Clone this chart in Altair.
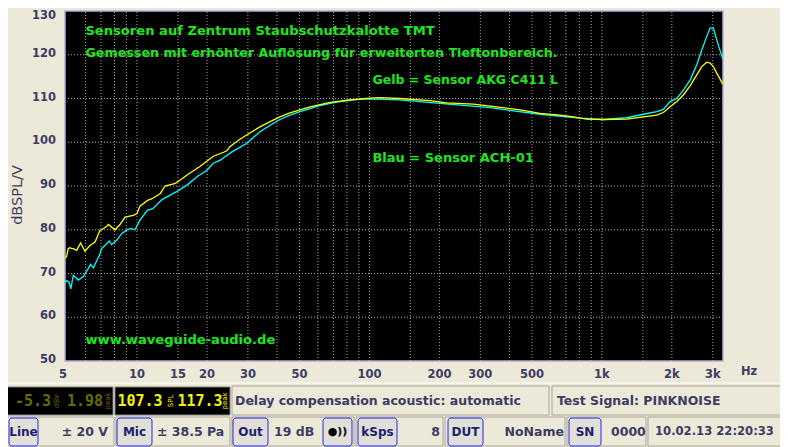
import altair as alt
import pandas as pd

# ---------------- data ----------------
yellow_freq = [4.9, 4.98, 5.06, 5.15, 5.24, 5.32, 5.5, 5.72, 5.97, 6.28, 6.6, 6.93, 7.05, 7.41, 7.53,
               8.04, 8.45, 8.88, 9.64, 10.0, 10.3, 11.1, 11.6, 12.6, 13.2, 14.6, 15.3, 16.6, 18.7,
               21.3, 24.3, 25.1, 27.7, 33.8, 37.4, 41.2, 45.5, 50.3, 55.5, 61.3, 67.7, 74.7, 82.5,
               91.1, 100.6, 111, 135, 182, 215, 280, 353, 445, 542, 661, 754, 861, 1015, 1280,
               1508, 1723, 1839, 1965, 2101, 2242, 2396, 2561, 2691, 2827, 2921, 3018, 3121, 3313]
yellow_db = [73.5, 73.9, 75.7, 75.9, 75.7, 75.7, 75.3, 77.0, 75.1, 76.4, 77.2, 79.9, 80.0, 80.8, 81.2,
             80.0, 81.2, 82.9, 83.3, 83.7, 85.4, 86.7, 87.1, 88.3, 90.0, 90.6, 91.3, 92.7, 94.5,
             96.8, 98.0, 99.0, 100.7, 103.5, 104.7, 105.8, 106.7, 107.4, 108.1, 108.6, 109.1, 109.4,
             109.7, 109.9, 110.1, 110.2, 110.0, 109.5, 109.0, 108.7, 108.1, 107.4, 106.6, 106.2,
             105.8, 105.3, 105.2, 105.3, 105.8, 106.2, 106.8, 108.1, 109.3, 110.8, 112.9, 115.4,
             117.3, 118.3, 118.1, 117.3, 115.8, 113.3]

cyan_freq = [4.9, 4.98, 5.1, 5.19, 5.32, 5.59, 5.88, 6.32, 6.49, 6.88, 7.05, 7.6, 7.78, 8.18, 8.59,
             9.03, 9.39, 9.8, 10.3, 11.1, 11.7, 12.8, 13.9, 14.8, 16.4, 18.3, 19.9, 21.3, 22.8, 25.6,
             29.6, 33.8, 37.4, 41.2, 45.5, 50.3, 55.5, 61.3, 67.7, 74.7, 82.5, 91.1, 100.6, 135, 201,
             330, 542, 806, 1015, 1280, 1508, 1723, 1839, 1965, 2101, 2242, 2396, 2561, 2691, 2827,
             2921, 3018, 3121, 3313]
cyan_db = [68.0, 68.4, 68.0, 66.5, 69.6, 68.5, 69.3, 72.1, 71.3, 74.1, 75.7, 77.4, 76.6, 77.6, 79.1,
           79.9, 80.3, 80.0, 82.2, 84.5, 84.8, 86.9, 87.9, 88.7, 90.2, 92.3, 93.5, 95.2, 95.9, 97.8,
           99.7, 102.4, 103.9, 105.2, 106.2, 107.0, 107.7, 108.4, 108.9, 109.3, 109.6, 109.8, 109.9,
           109.7, 108.9, 107.9, 106.4, 105.5, 105.2, 105.6, 106.4, 107.0, 107.5, 109.3, 110.0, 111.9,
           114.2, 117.7, 121.1, 124.2, 126.1, 126.1, 123.4, 119.0]

x_tick_values = [5, 10, 15, 20, 30, 50, 100, 200, 300, 500, 1000, 2000, 3000]
x_tick_labels = ["5", "10", "15", "20", "30", "50", "100", "200", "300", "500", "1k", "2k", "3k"]
x_grid_values = [6, 7, 8, 9, 10, 15, 20, 30, 40, 50, 60, 70, 80, 90, 100, 150, 200, 300, 400, 500,
                 600, 700, 800, 900, 1000, 1500, 2000, 3000]
y_tick_values = [50, 60, 70, 80, 90, 100, 110, 120, 130]
y_tick_labels = ["50", "60", "70", "80", "90", "100", "110", "120", "130"]
y_grid_values = [60, 70, 80, 90, 100, 110, 120]
y_title = "dBSPL/V"
x_unit = "Hz"

note_texts = ["Sensoren auf Zentrum Staubschutzkalotte TMT",
              "Gemessen mit erhöhter Auflösung für erweiterten Tieftonbereich.",
              "Gelb = Sensor AKG C411 L",
              "Blau = Sensor ACH-01",
              "www.waveguide-audio.de"]
note_freq = [6.0, 6.0, 103, 103, 6.0]
note_db = [124.5, 119.5, 113.3, 95.4, 54.0]
note_size = [13.1, 12.7, 12.5, 13.0, 13.1]

# ---------------- layout ----------------
PAGE = 8
PAD_L, PAD_T, PAD_R, PAD_B = 57, 3, 57, 86
PLOT_W, PLOT_H = 658, 350
OX, OY = PAGE + PAD_L, PAGE + PAD_T
F_MIN, F_MAX = 4.9, 3320
DB_MIN, DB_MAX = 50, 130

BG = "#ece9d8"
NAVY = "#3c3c64"
GREEN = "#1ee61e"
GRID = "#a8a8a8"
FONT = "DejaVu Sans"

xs = alt.Scale(type="log", domain=[F_MIN, F_MAX], nice=False)
ys = alt.Scale(domain=[DB_MIN, DB_MAX], nice=False, zero=False)

# ---------------- status bar (window chrome below the plot) ----------------
panel_x1 = [1, 115, 232, 552, 1, 116, 232, 356, 445, 567, 648]
panel_x2 = [113, 230, 549, 787, 114, 230, 354, 443, 565, 646, 787]
panel_y1 = [387, 387, 386, 386, 417, 417, 417, 417, 417, 417, 417]
panel_y2 = [415, 415, 415, 415, 446, 446, 446, 446, 446, 446, 446]
panel_fill = ["#000000", "#000000"] + [BG] * 9
panel_stroke = ["#808080", "#808080"] + ["#aca899"] * 9

button_labels = ["Line", "Mic", "Out", "", "kSps", "DUT", "SN"]
button_x1 = [9, 117, 233, 323, 358, 448, 569]
button_x2 = [38, 152, 268, 352, 397, 483, 601]

left_texts = ["Delay compensation acoustic: automatic", "Test Signal: PINKNOISE",
              "± 38.5 Pa", "19 dB", "0000", "10.02.13 22:20:33"]
left_x = [235, 557, 157, 274, 611, 655]
left_y = [401, 401, 432, 432, 432, 432]
left_size = [12.5, 12.5, 12.5, 12.5, 12.5, 11.6]
right_texts = ["±  20 V", "8", "NoName"]
right_x = [108, 440, 564]
right_y = [432, 432, 432]

led_texts = ["-5.3", "1.98", "107.3", "117.3"]
led_x = [33, 85, 140, 200]
led_colors = ["#6a6a00", "#6a6a00", "#f4f400", "#f4f400"]
led_small = ["dBV", "peak", "SPL", "peak"]
led_small_x = [57, 108, 171, 225]


def rel(vals, off):
    return [v - off for v in vals]


cyan_df = pd.DataFrame({"f": cyan_freq, "db": cyan_db})
yellow_df = pd.DataFrame({"f": yellow_freq, "db": yellow_db})

X = lambda fld: alt.X(fld, scale=xs, axis=None)
Y = lambda fld: alt.Y(fld, scale=ys, axis=None)
PX = lambda fld: alt.X(fld, scale=None, axis=None)
PY = lambda fld: alt.Y(fld, scale=None, axis=None)

# dotted grid drawn as two-point line segments through the scales
gx_rows = [{"g": f"x{f}", "f": f, "v": v} for f in x_grid_values for v in (DB_MIN, DB_MAX)]
gy_rows = [{"g": f"y{v}", "f": f, "v": v} for v in y_grid_values for f in (F_MIN, F_MAX)]
grid_df = pd.DataFrame(gx_rows + gy_rows)
grid = alt.Chart(grid_df).mark_line(color=GRID, strokeDash=[1, 2], strokeWidth=1).encode(
    x=X("f:Q"), y=Y("v:Q"), detail="g:N")

cyan_line = alt.Chart(cyan_df).mark_line(color="#00ffff", strokeWidth=1.3, clip=True).encode(
    x=X("f:Q"), y=Y("db:Q"))
yellow_line = alt.Chart(yellow_df).mark_line(color="#ffff00", strokeWidth=1.3, clip=True).encode(
    x=X("f:Q"), y=Y("db:Q"))

notes = alt.Chart(pd.DataFrame({"t": note_texts, "f": note_freq, "v": note_db, "s": note_size})).mark_text(
    align="left", baseline="alphabetic", font=FONT, fontWeight="bold", color=GREEN
).encode(x=X("f:Q"), y=Y("v:Q"), text="t:N", size=alt.Size("s:Q", scale=None, legend=None))

# axis tick labels, drawn as text through the same scales
xlab_rest = pd.DataFrame({"f": x_tick_values[1:], "t": x_tick_labels[1:],
                          "yy": [PLOT_H + 8] * (len(x_tick_values) - 1)})
xlab_first = pd.DataFrame({"f": x_tick_values[:1], "t": x_tick_labels[:1], "yy": [PLOT_H + 8]})
x_labels = alt.Chart(xlab_rest).mark_text(
    align="center", baseline="top", font=FONT, fontWeight="bold", fontSize=11.5, color=NAVY
).encode(x=X("f:Q"), y=PY("yy:Q"), text="t:N")
x_label_first = alt.Chart(xlab_first).mark_text(
    align="center", baseline="top", font=FONT, fontWeight="bold", fontSize=11.5, color=NAVY, dx=-4
).encode(x=X("f:Q"), y=PY("yy:Q"), text="t:N")

ylab_rest = pd.DataFrame({"v": y_tick_values[:-1], "t": y_tick_labels[:-1],
                          "xx": [-9] * (len(y_tick_values) - 1)})
ylab_top = pd.DataFrame({"v": y_tick_values[-1:], "t": y_tick_labels[-1:], "xx": [-9]})
y_labels = alt.Chart(ylab_rest).mark_text(
    align="right", baseline="middle", font=FONT, fontWeight="bold", fontSize=11.5, color=NAVY, dy=-1
).encode(x=PX("xx:Q"), y=Y("v:Q"), text="t:N")
y_label_top = alt.Chart(ylab_top).mark_text(
    align="right", baseline="middle", font=FONT, fontWeight="bold", fontSize=11.5, color=NAVY, dy=5
).encode(x=PX("xx:Q"), y=Y("v:Q"), text="t:N")

y_title_mark = alt.Chart(pd.DataFrame({"t": [y_title], "x": [-47], "y": [184]})).mark_text(
    align="center", baseline="middle", font=FONT, fontSize=14.5, color=NAVY, angle=270
).encode(x=PX("x:Q"), y=PY("y:Q"), text="t:N")

hz_mark = alt.Chart(pd.DataFrame({"t": [x_unit], "x": [741 - OX], "y": [372 - OY]})).mark_text(
    align="left", baseline="middle", font=FONT, fontWeight="bold", fontSize=11.5, color=NAVY
).encode(x=PX("x:Q"), y=PY("y:Q"), text="t:N")

layers = [grid, cyan_line, yellow_line, notes, x_labels, x_label_first, y_labels, y_label_top,
          y_title_mark, hz_mark]

# status bar panels
panels_df = pd.DataFrame({
    "x1": rel(panel_x1, OX), "x2": rel(panel_x2, OX),
    "y1": rel(panel_y1, OY), "y2": rel(panel_y2, OY),
    "fill": panel_fill, "stroke": panel_stroke,
})
layers.append(
    alt.Chart(panels_df).mark_rect(strokeWidth=1).encode(
        x=PX("x1:Q"), x2="x2:Q", y=PY("y1:Q"), y2="y2:Q",
        fill=alt.Fill("fill:N", scale=None), stroke=alt.Stroke("stroke:N", scale=None),
    )
)
layers.append(
    alt.Chart(pd.DataFrame({"x1": [0 - OX], "x2": [788 - OX], "y": [383 - OY]})).mark_rule(
        color="#ffffff", strokeWidth=1
    ).encode(x=PX("x1:Q"), x2="x2:Q", y=PY("y:Q"))
)

# buttons
buttons_df = pd.DataFrame({
    "t": button_labels,
    "x1": rel(button_x1, OX), "x2": rel(button_x2, OX),
    "xc": [(a + b) / 2 - OX for a, b in zip(button_x1, button_x2)],
    "y1": [418 - OY] * 7, "y2": [446 - OY] * 7, "yc": [432 - OY] * 7,
})
layers.append(
    alt.Chart(buttons_df).mark_rect(fill="#e0dfd8", stroke="#2828e8", strokeWidth=1, cornerRadius=3).encode(
        x=PX("x1:Q"), x2="x2:Q", y=PY("y1:Q"), y2="y2:Q",
    )
)
layers.append(
    alt.Chart(buttons_df).mark_text(align="center", baseline="middle", font=FONT, fontWeight="bold",
                                    fontSize=12, color="#1e1e6e").encode(
        x=PX("xc:Q"), y=PY("yc:Q"), text="t:N"
    )
)
layers.append(
    alt.Chart(pd.DataFrame({"t": ["●))"], "x": [337.5 - OX], "y": [432 - OY]})).mark_text(
        align="center", baseline="middle", font=FONT, fontWeight="bold", fontSize=11, color="#000000"
    ).encode(x=PX("x:Q"), y=PY("y:Q"), text="t:N")
)

# status texts
layers.append(
    alt.Chart(pd.DataFrame({"t": left_texts, "x": rel(left_x, OX), "y": rel(left_y, OY),
                            "s": left_size})).mark_text(
        align="left", baseline="middle", font=FONT, fontWeight="bold", color=NAVY
    ).encode(x=PX("x:Q"), y=PY("y:Q"), text="t:N", size=alt.Size("s:Q", scale=None, legend=None))
)
layers.append(
    alt.Chart(pd.DataFrame({"t": right_texts, "x": rel(right_x, OX), "y": rel(right_y, OY)})).mark_text(
        align="right", baseline="middle", font=FONT, fontWeight="bold", fontSize=12.5, color=NAVY
    ).encode(x=PX("x:Q"), y=PY("y:Q"), text="t:N")
)

# LED displays
layers.append(
    alt.Chart(pd.DataFrame({"t": led_texts, "x": rel(led_x, OX), "y": [401 - OY] * 4, "c": led_colors})).mark_text(
        align="center", baseline="middle", font="DejaVu Sans Mono", fontWeight="bold", fontSize=15
    ).encode(x=PX("x:Q"), y=PY("y:Q"), text="t:N", color=alt.Color("c:N", scale=None))
)
layers.append(
    alt.Chart(pd.DataFrame({"t": led_small, "x": rel(led_small_x, OX), "y": [401 - OY] * 4, "c": led_colors})).mark_text(
        align="center", baseline="middle", font=FONT, fontSize=7, angle=270
    ).encode(x=PX("x:Q"), y=PY("y:Q"), text="t:N", color=alt.Color("c:N", scale=None))
)

chart = alt.layer(*layers).properties(
    width=PLOT_W, height=PLOT_H,
    padding={"left": PAD_L, "top": PAD_T, "right": PAD_R, "bottom": PAD_B},
    autosize=alt.AutoSizeParams(type="none"),
    background=BG,
).configure_view(fill="#000000", stroke="#b0b0d8", strokeWidth=1.5)

chart.save("out.html", embed_options={"renderer": "svg", "actions": False})
